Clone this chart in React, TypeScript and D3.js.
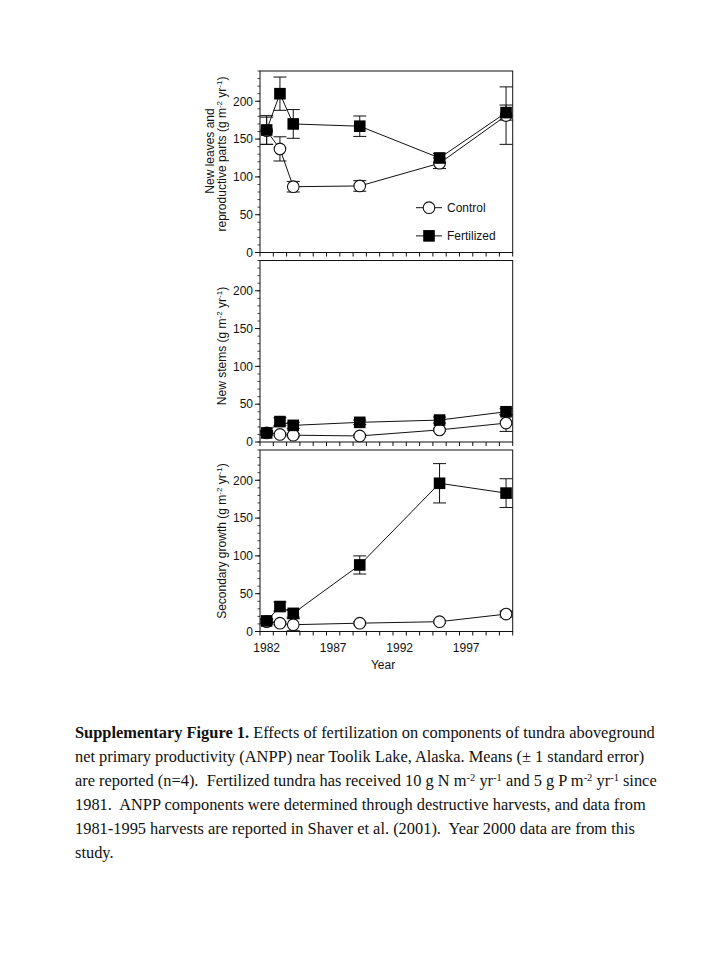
import React from "react";
import * as d3 from "d3";

const years = [1982, 1983, 1984, 1989, 1995, 2000];

const leavesControl = [161, 137, 87, 88, 118, 181];
const leavesControlSE = [18, 16, 7, 7, 7, 38];
const leavesFert = [162, 210, 170, 167, 125, 185];
const leavesFertSE = [19, 22, 19, 13.5, 6, 10];

const stemsControl = [12, 10, 9, 8, 16, 25];
const stemsControlSE = [2, 2, 2, 2, 2, 11];
const stemsFert = [12, 27, 22, 26, 29, 40];
const stemsFertSE = [3, 5, 4, 3, 4, 4];

const secControl = [13, 11, 9, 11, 13, 23];
const secControlSE = [3, 2, 8, 2, 2, 4];
const secFert = [14, 33, 24, 88, 196, 183];
const secFertSE = [3, 6, 5, 12, 26, 19];

const yTicks = [0, 50, 100, 150, 200];
const xLabelYears = [1982, 1987, 1992, 1997];

const captionLines = [
  null,
  "net primary productivity (ANPP) near Toolik Lake, Alaska. Means (\u00b1 1 standard error)",
  null,
  "1981.  ANPP components were determined through destructive harvests, and data from",
  "1981-1995 harvests are reported in Shaver et al. (2001).  Year 2000 data are from this",
  "study.",
];

const SANS = "'Liberation Sans', Arial, Helvetica, sans-serif";
const SERIF = "'Liberation Serif', 'Times New Roman', serif";

const X0 = 260;
const X1 = 512.7;
const PANEL_H = 181.5;
const panelTops = [71, 260.5, 450];

const x = d3.scaleLinear().domain([1981.5, 2000.5]).range([X0, X1]);

type PanelProps = {
  top: number;
  ctrl: number[];
  ctrlSE: number[];
  fert: number[];
  fertSE: number[];
  label: React.ReactNode;
  legend?: boolean;
  xLabels?: boolean;
};

function Sup({ t }: { t: string }) {
  return (
    <tspan fontSize="8" dy="-4">
      {t}
    </tspan>
  );
}

function ErrorBars({ vals, se, y }: { vals: number[]; se: number[]; y: d3.ScaleLinear<number, number> }) {
  return (
    <g stroke="#111" strokeWidth={1}>
      {years.map((yr, i) => {
        const cx = x(yr);
        const hi = y(vals[i] + se[i]);
        const lo = y(Math.max(0, vals[i] - se[i]));
        return (
          <g key={i}>
            <line x1={cx} x2={cx} y1={hi} y2={lo} />
            <line x1={cx - 6.5} x2={cx + 6.5} y1={hi} y2={hi} />
            <line x1={cx - 6.5} x2={cx + 6.5} y1={lo} y2={lo} />
          </g>
        );
      })}
    </g>
  );
}

function Panel({ top, ctrl, ctrlSE, fert, fertSE, label, legend, xLabels }: PanelProps) {
  const y = d3.scaleLinear().domain([0, 240]).range([top + PANEL_H, top]);
  const bottom = top + PANEL_H;
  const line = d3
    .line<number>()
    .x((_, i) => x(years[i]))
    .y((d) => y(d));
  const xTicks = d3.range(1981.5, 2000.6, 1);
  const minor = d3.range(0, 241, 10);
  return (
    <g>
      <rect x={X0} y={top} width={X1 - X0} height={PANEL_H} fill="none" stroke="#111" strokeWidth={1} />
      {xTicks.map((t, i) => (
        <line key={i} x1={x(t)} x2={x(t)} y1={bottom} y2={bottom + 4} stroke="#111" strokeWidth={1} />
      ))}
      {minor.map((t, i) => (
        <line key={"m" + i} x1={X0 - 2.5} x2={X0} y1={y(t)} y2={y(t)} stroke="#111" strokeWidth={0.8} />
      ))}
      {yTicks.map((t, i) => (
        <g key={"y" + i}>
          <line x1={X0 - 5} x2={X0} y1={y(t)} y2={y(t)} stroke="#111" strokeWidth={1} />
          <text x={X0 - 7} y={y(t) + 4.3} textAnchor="end" fontSize="12" fontFamily={SANS} fill="#111">
            {t}
          </text>
        </g>
      ))}
      {xLabels &&
        xLabelYears.map((t, i) => (
          <text key={"xl" + i} x={x(t)} y={bottom + 20} textAnchor="middle" fontSize="12" fontFamily={SANS} fill="#111">
            {t}
          </text>
        ))}
      {label}
      <ErrorBars vals={ctrl} se={ctrlSE} y={y} />
      <ErrorBars vals={fert} se={fertSE} y={y} />
      <path d={line(ctrl) || ""} fill="none" stroke="#111" strokeWidth={1} />
      <path d={line(fert) || ""} fill="none" stroke="#111" strokeWidth={1} />
      {ctrl.map((v, i) => (
        <circle key={"c" + i} cx={x(years[i])} cy={y(v)} r={5.8} fill="#fff" stroke="#111" strokeWidth={1.1} />
      ))}
      {fert.map((v, i) => (
        <rect key={"f" + i} x={x(years[i]) - 5.8} y={y(v) - 5.8} width={11.6} height={11.6} fill="#000" />
      ))}
      {legend && (
        <g fontFamily={SANS} fontSize="12" fill="#111">
          <line x1={416} x2={442} y1={y(50) - 7} y2={y(50) - 7} stroke="#111" strokeWidth={1} />
          <circle cx={429} cy={y(50) - 7} r={5.8} fill="#fff" stroke="#111" strokeWidth={1.1} />
          <text x={447} y={y(50) - 2.7}>Control</text>
          <line x1={416} x2={442} y1={y(20) - 1.5} y2={y(20) - 1.5} stroke="#111" strokeWidth={1} />
          <rect x={429 - 5.8} y={y(20) - 1.5 - 5.8} width={11.6} height={11.6} fill="#000" />
          <text x={447} y={y(20) + 2.8}>Fertilized</text>
        </g>
      )}
    </g>
  );
}

function YLabel({ cx, cy, children }: { cx: number; cy: number; children: React.ReactNode }) {
  return (
    <text
      transform={`translate(${cx},${cy}) rotate(-90)`}
      textAnchor="middle"
      fontSize="12"
      fontFamily={SANS}
      fill="#111"
    >
      {children}
    </text>
  );
}

export default function App() {
  const capX = 75;
  const capY0 = 738;
  const lh = 24;
  return (
    <svg
      width={720}
      height={960}
      viewBox="0 0 720 960"
      style={{ position: "absolute", left: 0, top: 0, background: "#fff" }}
    >
      <rect x={0} y={0} width={720} height={960} fill="#fff" />
      <Panel
        top={panelTops[0]}
        ctrl={leavesControl}
        ctrlSE={leavesControlSE}
        fert={leavesFert}
        fertSE={leavesFertSE}
        legend
        label={
          <g>
            <YLabel cx={214} cy={151}>New leaves and</YLabel>
            <YLabel cx={226} cy={154}>
              reproductive parts (g m<Sup t="-2" />
              <tspan dy="4"> yr</tspan>
              <Sup t="-1" />
              <tspan dy="4">)</tspan>
            </YLabel>
          </g>
        }
      />
      <Panel
        top={panelTops[1]}
        ctrl={stemsControl}
        ctrlSE={stemsControlSE}
        fert={stemsFert}
        fertSE={stemsFertSE}
        label={
          <YLabel cx={226} cy={346}>
            New stems (g m<Sup t="-2" />
            <tspan dy="4"> yr</tspan>
            <Sup t="-1" />
            <tspan dy="4">)</tspan>
          </YLabel>
        }
      />
      <Panel
        top={panelTops[2]}
        ctrl={secControl}
        ctrlSE={secControlSE}
        fert={secFert}
        fertSE={secFertSE}
        xLabels
        label={
          <YLabel cx={226} cy={541}>
            Secondary growth (g m<Sup t="-2" />
            <tspan dy="4"> yr</tspan>
            <Sup t="-1" />
            <tspan dy="4">)</tspan>
          </YLabel>
        }
      />
      <text x={383} y={669} textAnchor="middle" fontSize="12" fontFamily={SANS} fill="#111">
        Year
      </text>

      <g fontFamily={SERIF} fontSize="16.4" fill="#111">
        <text x={capX} y={capY0} xmlSpace="preserve">
          <tspan fontWeight="bold">Supplementary Figure 1.</tspan>
          {" Effects of fertilization on components of tundra aboveground"}
        </text>
        <text x={capX} y={capY0 + lh} xmlSpace="preserve">{captionLines[1]}</text>
        <text x={capX} y={capY0 + lh * 2} xmlSpace="preserve">
          {"are reported (n=4).  Fertilized tundra has received 10 g N m"}
          <tspan fontSize="10.5" dy="-5.5">-2</tspan>
          <tspan dy="5.5">{" yr"}</tspan>
          <tspan fontSize="10.5" dy="-5.5">-1</tspan>
          <tspan dy="5.5">{" and 5 g P m"}</tspan>
          <tspan fontSize="10.5" dy="-5.5">-2</tspan>
          <tspan dy="5.5">{" yr"}</tspan>
          <tspan fontSize="10.5" dy="-5.5">-1</tspan>
          <tspan dy="5.5">{" since"}</tspan>
        </text>
        <text x={capX} y={capY0 + lh * 3} xmlSpace="preserve">{captionLines[3]}</text>
        <text x={capX} y={capY0 + lh * 4} xmlSpace="preserve">{captionLines[4]}</text>
        <text x={capX} y={capY0 + lh * 5} xmlSpace="preserve">{captionLines[5]}</text>
      </g>
    </svg>
  );
}
